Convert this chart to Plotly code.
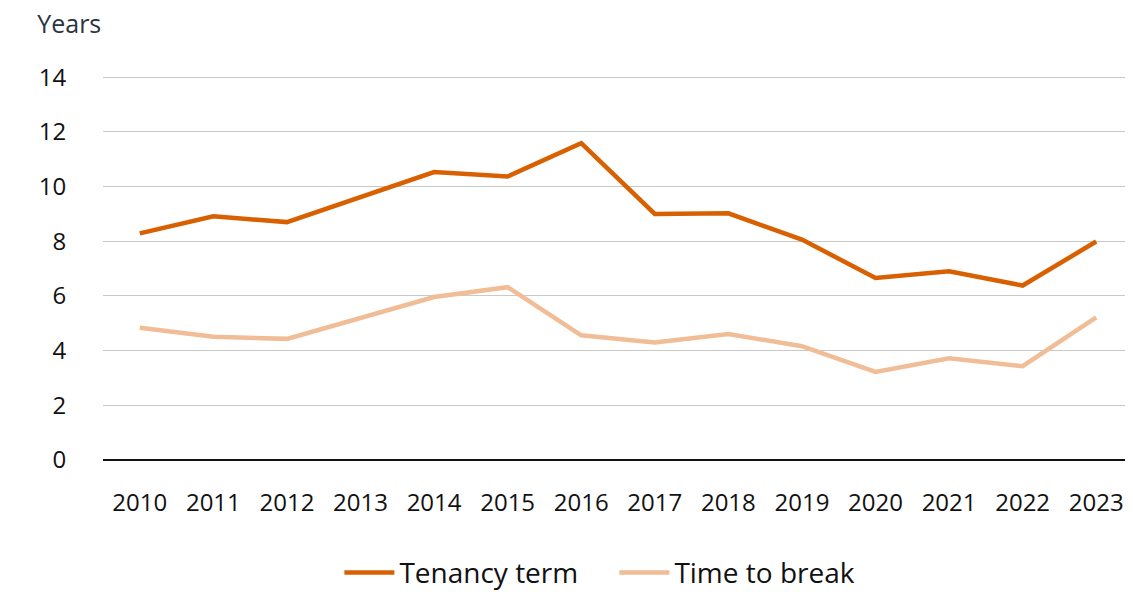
import plotly.graph_objects as go

years = ["2010", "2011", "2012", "2013", "2014", "2015", "2016",
         "2017", "2018", "2019", "2020", "2021", "2022", "2023"]
tenancy_term = [8.29, 8.91, 8.70, 9.62, 10.53, 10.37, 11.59,
                9.00, 9.02, 8.06, 6.66, 6.90, 6.38, 7.99]
time_to_break = [4.84, 4.51, 4.43, 5.20, 5.96, 6.32, 4.56,
                 4.30, 4.61, 4.16, 3.22, 3.72, 3.43, 5.22]
y_ticks = [0, 2, 4, 6, 8, 10, 12, 14]

FONT = "Open Sans"

fig = go.Figure()
fig.add_trace(go.Scatter(x=years, y=tenancy_term, mode="lines", name="Tenancy term",
                         line=dict(color="#D86000", width=4.5)))
fig.add_trace(go.Scatter(x=years, y=time_to_break, mode="lines", name="Time to break",
                         line=dict(color="#F0BD97", width=4.5)))

fig.update_layout(
    width=1125, height=584,
    margin=dict(l=95, r=0, t=67, b=132),
    paper_bgcolor="white", plot_bgcolor="white",
    font=dict(family=FONT, size=24, color="#111111"),
    title=dict(text="Years", xref="container", yref="container",
               x=0.026, xanchor="left", y=0.972, yanchor="middle",
               font=dict(family=FONT, size=25, color="#2A3440")),
    showlegend=True,
    legend=dict(orientation="h", x=0.539, xanchor="center", xref="container",
                y=0.033, yanchor="middle", yref="container",
                font=dict(family=FONT, size=28, color="#111111"),
                itemwidth=50, entrywidth=210, tracegroupgap=0),
    xaxis=dict(type="category", range=[-0.5, 13.5], showgrid=False,
               showline=False, zeroline=False, automargin=False,
               ticks="outside", ticklen=21, tickcolor="rgba(0,0,0,0)",
               tickfont=dict(family=FONT, size=24, color="#111111")),
    yaxis=dict(range=[0, 14.08], tickvals=y_ticks, showgrid=True,
               gridcolor="#C9C9C9", gridwidth=1, automargin=False,
               zeroline=True, zerolinecolor="#111111", zerolinewidth=2,
               showline=False,
               ticks="outside", ticklen=31, tickcolor="rgba(0,0,0,0)",
               tickfont=dict(family=FONT, size=24, color="#111111")),
)

fig.write_html("out.html")
